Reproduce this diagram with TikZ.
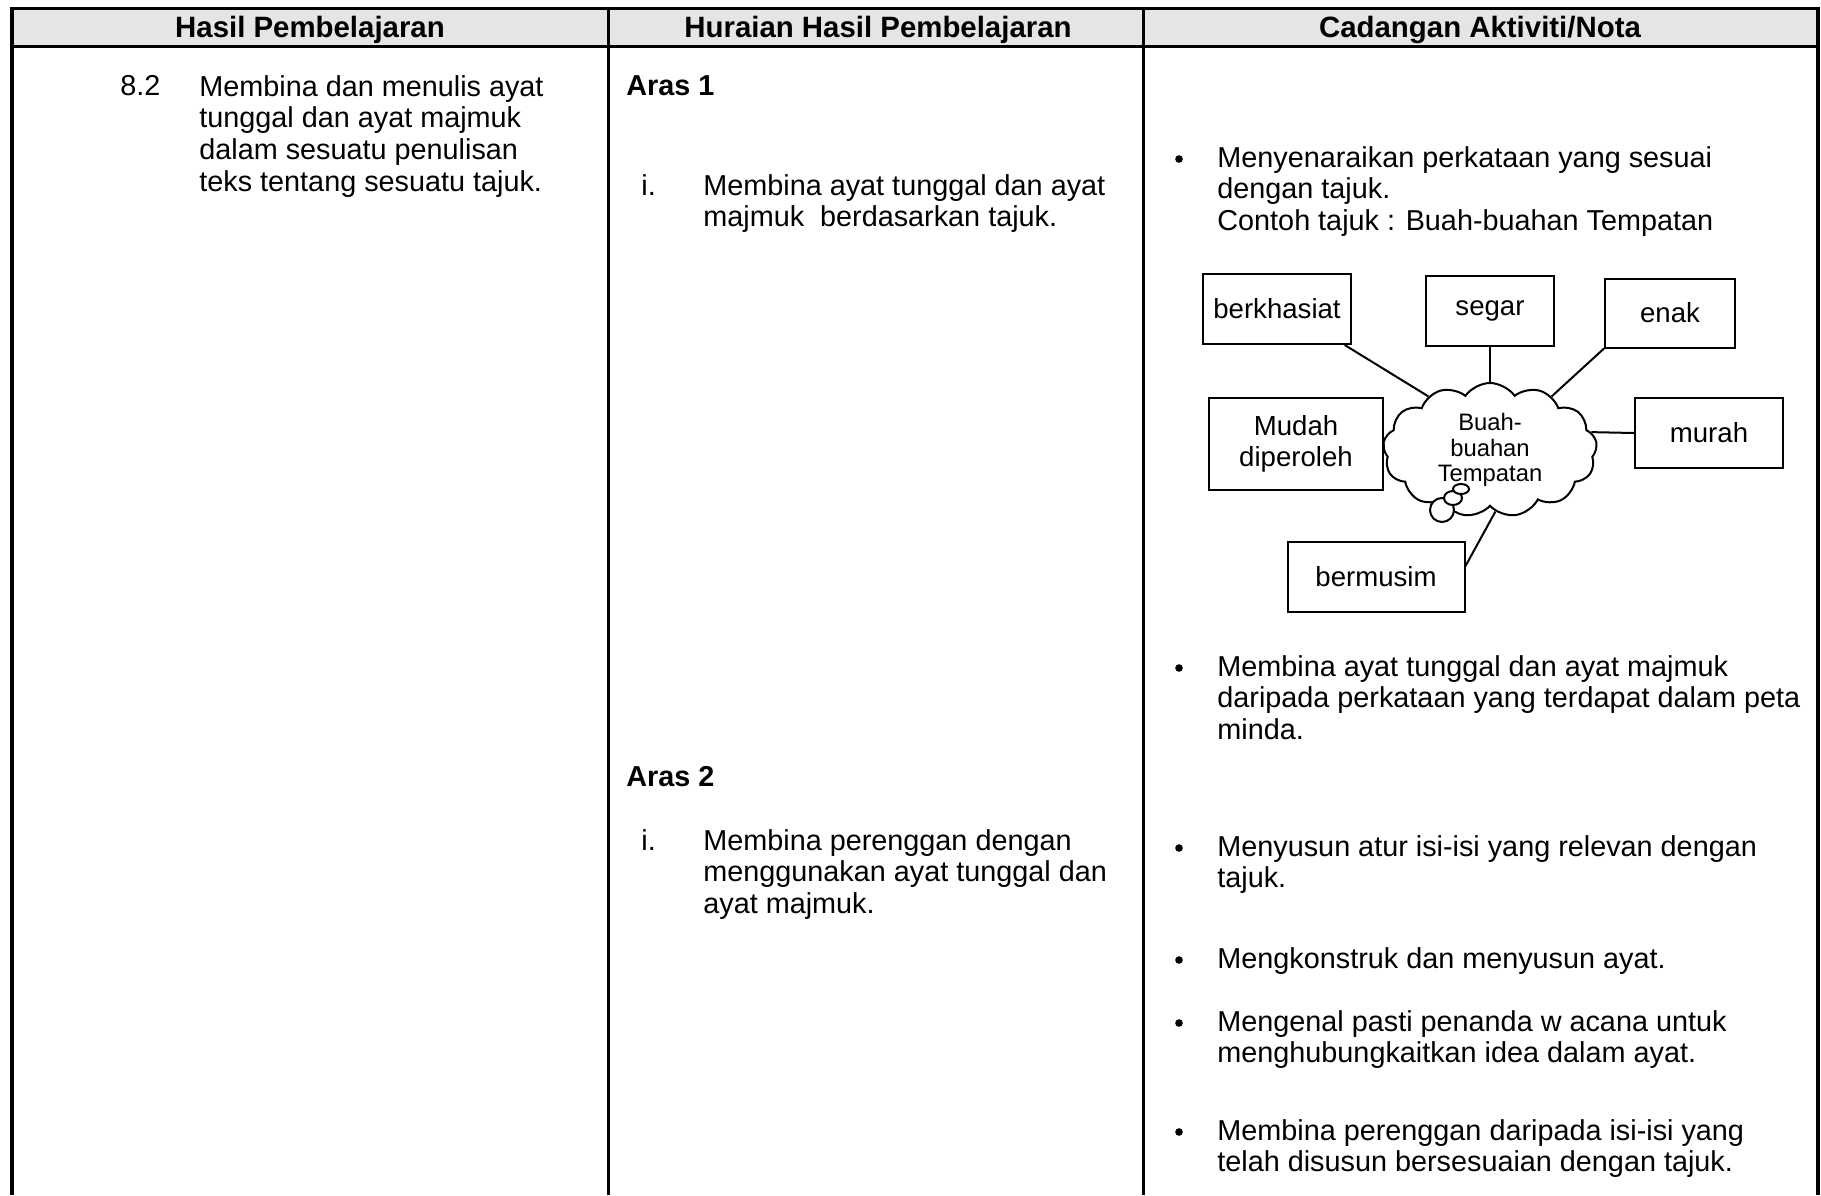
\documentclass[tikz,border=0pt]{standalone}
\usepackage{fontspec}
\setmainfont{Liberation Sans}
\usetikzlibrary{shapes.symbols,calc}
\definecolor{hdrgray}{RGB}{229,229,229}

\begin{document}
\begin{tikzpicture}[x=0.5pt,y=-0.5pt,
  txt/.style={anchor=north west,inner sep=0pt,align=left,font=\fontsize{14.4}{15.8}\selectfont},
  hdr/.style={inner sep=0pt,font=\fontsize{14.7}{16}\selectfont\bfseries},
  aras/.style={txt,font=\fontsize{14.4}{15.8}\selectfont\bfseries},
  wordbox/.style={draw,line width=1pt,inner sep=0pt,align=center,font=\fontsize{13.8}{15.8}\selectfont},
  link/.style={line width=1pt},
  dot/.style={circle,fill,inner sep=0pt,minimum size=3.8pt}
]
\useasboundingbox (0,0) rectangle (1821,1195);

% table frame
\fill[hdrgray] (12,8) rectangle (1818,46);
\draw[line width=1.5pt] (12,8) -- (1818,8);
\draw[line width=1.5pt] (12,46) -- (1818,46);
\draw[line width=1.5pt] (608,8) -- (608,1195);
\draw[line width=1.5pt] (1143,8) -- (1143,1195);
\draw[line width=2pt] (12,7) -- (12,1195);
\draw[line width=2pt] (1818,7) -- (1818,1195);

\node[hdr] (h1) at (310,30) {Hasil Pembelajaran};
\node[hdr] (h2) at (878,30) {Huraian Hasil Pembelajaran};
\node[hdr] (h3) at (1480,30) {Cadangan Aktiviti/Nota};

% column 1
\node[txt] (num) at (120,75) {8.2};
\node[txt] (hp) at (199,75) {Membina dan menulis ayat\\tunggal dan ayat majmuk\\dalam sesuatu penulisan\\teks tentang sesuatu tajuk.};

% column 2
\node[aras] (a1) at (626,75) {Aras 1};
\node[txt] (r1) at (641,174) {i.};
\node[txt] (d1) at (703,174) {Membina ayat tunggal dan ayat\\majmuk\ \ berdasarkan tajuk.};
\node[aras] (a2) at (626,766) {Aras 2};
\node[txt] (r2) at (641,829) {i.};
\node[txt] (d2) at (703,829) {Membina perenggan dengan\\menggunakan ayat tunggal dan\\ayat majmuk.};

% column 3
\foreach \n/\y in {1/159,2/668,3/848,4/960,5/1023,6/1132}
  \node[dot] (b\n) at (1179,\y) {};
\node[txt] (c1) at (1217,146) {Menyenaraikan perkataan yang sesuai\\dengan tajuk.\\Contoh tajuk : Buah-buahan Tempatan};
\node[txt] (c2) at (1217,655) {Membina ayat tunggal dan ayat majmuk\\daripada perkataan yang terdapat dalam peta\\minda.};
\node[txt] (c3) at (1217,835) {Menyusun atur isi-isi yang relevan dengan\\tajuk.};
\node[txt] (c4) at (1217,947) {Mengkonstruk dan menyusun ayat.};
\node[txt] (c5) at (1217,1010) {Mengenal pasti penanda w acana untuk\\menghubungkaitkan idea dalam ayat.};
\node[txt] (c6) at (1217,1119) {Membina perenggan daripada isi-isi yang\\telah disusun bersesuaian dengan tajuk.};

% peta minda
\node[draw,cloud,cloud puffs=13,cloud puff arc=110,aspect=1.6,line width=1pt,
      minimum width=107pt,minimum height=67pt,inner sep=0pt,align=center,
      font=\fontsize{11.9}{12.8}\selectfont] (cloud) at (1490,450) {Buah-\\buahan\\Tempatan};
\draw[line width=1pt,fill=white] (1442,510) circle (12);
\draw[line width=1pt,fill=white] (1453,498) ellipse (9 and 7);
\draw[line width=1pt,fill=white] (1461,489) ellipse (8 and 5);

\node[wordbox,minimum width=74pt,minimum height=35pt] (berk) at (1277,309) {berkhasiat};
\node[wordbox,minimum width=64pt,minimum height=35pt] (segar) at (1490,311) {segar};
\node[wordbox,minimum width=65pt,minimum height=34.5pt] (enak) at (1670,313) {enak};
\node[wordbox,minimum width=87pt,minimum height=46pt] (mudah) at (1296,444) {Mudah\\diperoleh};
\node[wordbox,minimum width=74pt,minimum height=35pt] (murah) at (1709,433) {murah};
\node[wordbox,minimum width=88.5pt,minimum height=35pt] (bermus) at (1376,577) {bermusim};

\draw[link] (berk.-28) -- (cloud.139);
\draw[link] (segar.south) -- (cloud.north);
\draw[link] (enak.south west) -- (cloud.41);
\draw[link] (murah.west) -- (cloud.10);
\draw[link] (mudah.east) -- (cloud.180);
\draw[link] (bermus.7) -- (cloud.-85);
\end{tikzpicture}
\end{document}
